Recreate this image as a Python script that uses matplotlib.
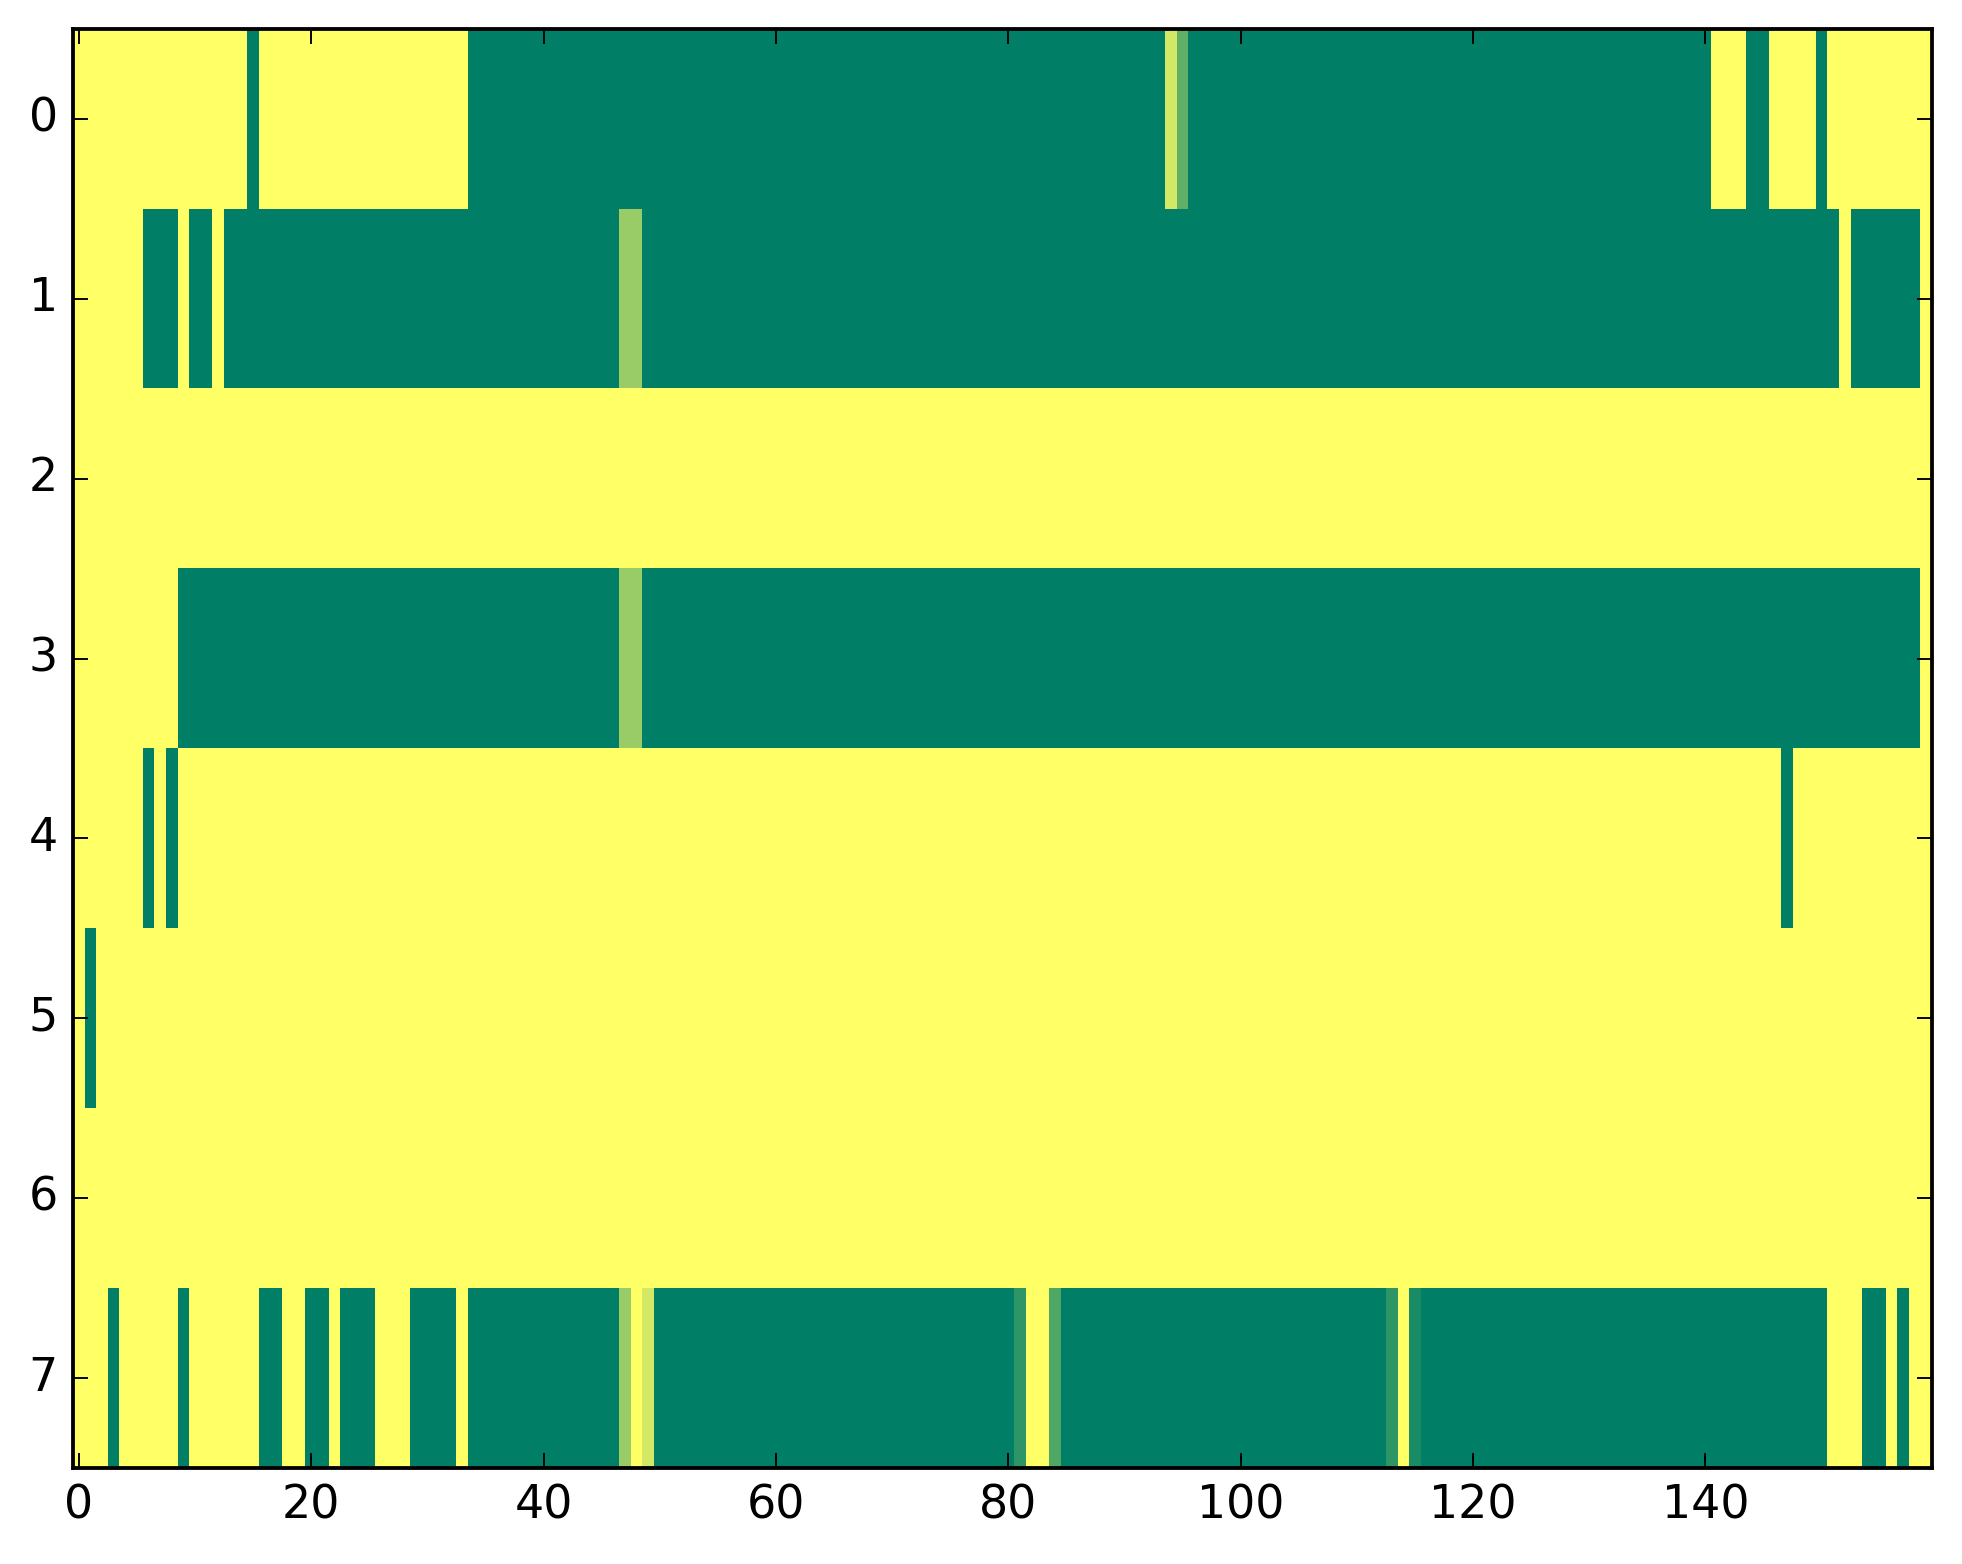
import numpy as np
import matplotlib
matplotlib.use("Agg")
import matplotlib.pyplot as plt

# each row: (value, number of consecutive cells), read left to right
row0 = [(1, 15), (0, 1), (1, 18), (0, 60), (0.83, 1), (0.38, 1), (0, 45),
        (1, 3), (0, 2), (1, 4), (0, 1), (1, 9)]
row1 = [(1, 6), (0, 3), (1, 1), (0, 2), (1, 1), (0, 34), (0.6, 2), (0, 103),
        (1, 1), (0, 6), (1, 1)]
row2 = [(1, 160)]
row3 = [(1, 9), (0, 38), (0.6, 2), (0, 110), (1, 1)]
row4 = [(1, 6), (0, 1), (1, 1), (0, 1), (1, 138), (0, 1), (1, 12)]
row5 = [(1, 1), (0, 1), (1, 158)]
row6 = [(1, 160)]
row7 = [(1, 3), (0, 1), (1, 5), (0, 1), (1, 6), (0, 2), (1, 2), (0, 2), (1, 1),
        (0, 3), (1, 3), (0, 4), (1, 1), (0, 13), (0.6, 1), (1, 1), (0.83, 1),
        (0, 31), (0.18, 1), (1, 2), (0.31, 1), (0, 28), (0.18, 1), (1, 1),
        (0.1, 1), (0, 35), (1, 3), (0, 2), (1, 1), (0, 1), (1, 2)]

ROWS = [row0, row1, row2, row3, row4, row5, row6, row7]
X_TICKS = list(range(0, 160, 20))
Y_TICKS = list(range(8))


def expand(runs):
    return np.concatenate([np.full(n, v, dtype=float) for v, n in runs])


if __name__ == "__main__":
    plt.style.use("classic")
    grid = np.vstack([expand(r) for r in ROWS])

    fig = plt.figure(figsize=(1963 / 275, 1564 / 275), dpi=275, facecolor="white")
    ax = fig.add_axes([0.0372, 0.0614, 0.947, 0.920])
    ax.imshow(grid, cmap="summer", vmin=0, vmax=1, aspect="auto",
              interpolation="nearest")
    ax.set_xlim(-0.5, grid.shape[1] - 0.5)
    ax.set_ylim(grid.shape[0] - 0.5, -0.5)
    ax.set_xticks(X_TICKS)
    ax.set_yticks(Y_TICKS)
    fig.savefig("out.png", dpi=275, facecolor="white")
